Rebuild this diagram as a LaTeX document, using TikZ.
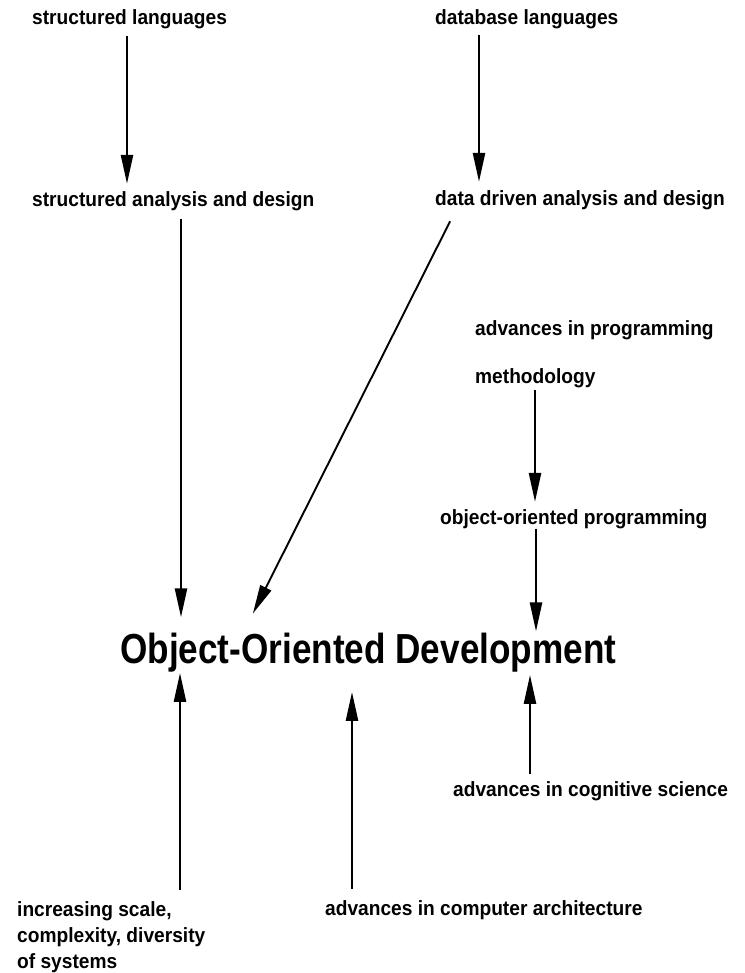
\documentclass[tikz,border=0pt]{standalone}
\usepackage{fontspec}
\setmainfont{Liberation Sans}[FakeStretch=0.93]
\usepackage{graphicx}
\usetikzlibrary{arrows.meta}

\tikzset{
    lbl/.style={anchor=base west, inner sep=0pt, font=\bfseries\fontsize{20.6}{26}\selectfont},
    arr/.style={line width=2.4pt, -{Triangle[length=29pt, width=12pt]}},
}

\begin{document}
\begin{tikzpicture}[x=1pt, y=-1pt]
        \useasboundingbox (0, 0) rectangle (744, 973);
        \node (sl) at (32, 25)[lbl] {structured languages};
        \node (dl) at (435, 25)[lbl] {database languages};
        \node (sad) at (32, 207)[lbl] {structured analysis and design};
        \node (dad) at (435, 206)[lbl] {data driven analysis and design};
        \node (apm) at (475, 335)[lbl] {advances in programming};
        \node (meth) at (475, 383)[lbl] {methodology};
        \node (oop) at (440, 524)[lbl] {object-oriented programming};
        \node (ood) at (120, 663)[anchor=base west, inner sep=0pt, font=\bfseries\fontsize{42}{50}\selectfont] {\scalebox{0.9}[1]{Object-Oriented Development}};
        \node (cog) at (453, 796)[lbl] {advances in cognitive science};
        \node (arch) at (325, 915)[lbl] {advances in computer architecture};
        \node (scale) at (17, 901)[lbl, anchor=north west, align=left] {increasing scale,\\complexity, diversity\\of systems};
        \draw[arr, shorten <=6pt, shorten >=8pt] (sl.south -| 127,0) -- (sad.north -| 127,0);
        \draw[arr, shorten <=5pt, shorten >=9pt] (dl.south -| 479,0) -- (dad.north -| 479,0);
        \draw[arr, shorten <=7pt, shorten >=15pt] (sad.south -| 181,0) -- (ood.north -| 181,0);
        \draw[arr, line width=1.9pt, shorten <=12pt, shorten >=21pt] (dad.south -| 455.5,0) -- (ood.north -| 243.4,0);
        \draw[arr, shorten <=2pt, shorten >=7pt] (meth.south -| 535,0) -- (oop.north -| 535,0);
        \draw[arr, shorten <=0pt, shorten >=1pt] (oop.south -| 536,0) -- (ood.north -| 536,0);
        \draw[arr, shorten <=7pt, shorten >=3pt] (cog.north -| 530,0) -- (ood.south -| 530,0);
        \draw[arr, shorten <=11pt, shorten >=20pt] (arch.north -| 352,0) -- (ood.south -| 352,0);
        \draw[arr, shorten <=11pt, shorten >=1pt] (scale.north -| 180,0) -- (ood.south -| 180,0);
    \end{tikzpicture}
\end{document}
